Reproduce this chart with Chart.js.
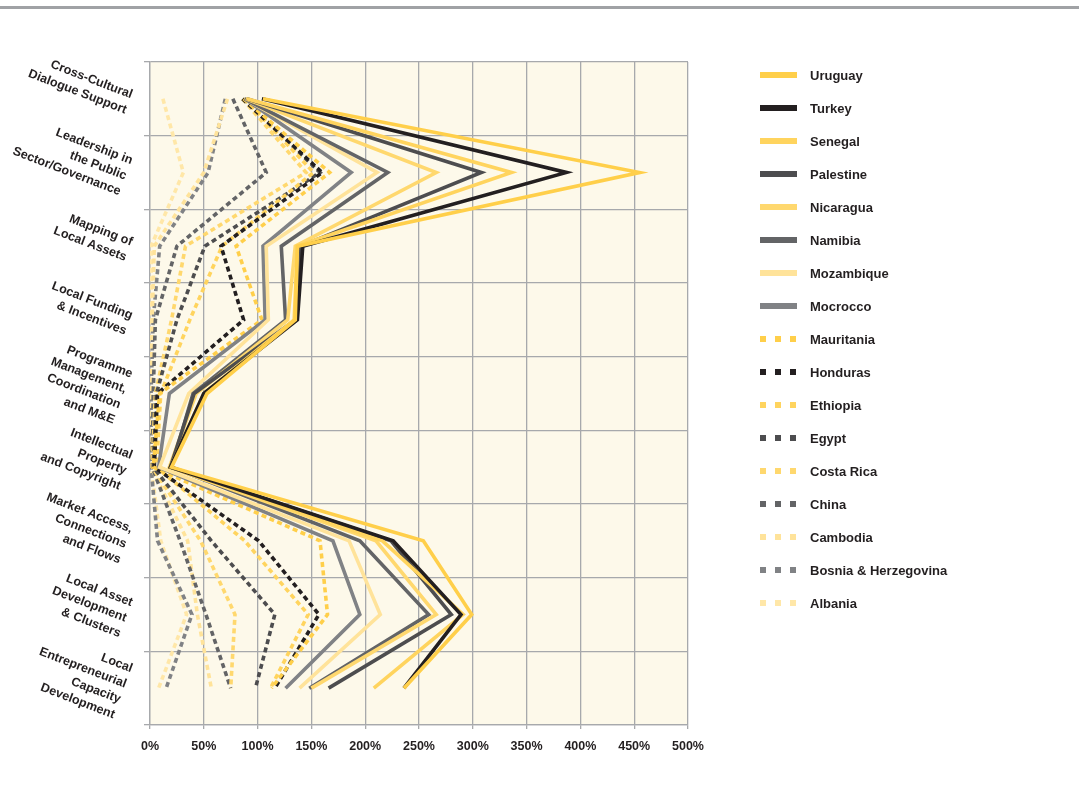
<!DOCTYPE html>
<html>
<head>
<meta charset="utf-8">
<script src="https://cdn.jsdelivr.net/npm/chart.js@4"></script>
<style>
  html, body { margin: 0; padding: 0; background: #ffffff; }
  #wrap { width: 1079px; height: 785px; position: relative; }
</style>
</head>
<body>
<div id="wrap"><canvas id="c" width="1079" height="785"></canvas></div>
<script>
// ---------- DATA ----------
const categories = [
  "Cross-Cultural Dialogue Support",
  "Leadership in the Public Sector/Governance",
  "Mapping of Local Assets",
  "Local Funding & Incentives",
  "Programme Management, Coordination and M&E",
  "Intellectual Property and Copyright",
  "Market Access, Connections and Flows",
  "Local Asset Development & Clusters",
  "Local Entrepreneurial Capacity Development"
];
const categoryLabelLines = [
  ["Cross-Cultural", "Dialogue Support"],
  ["Leadership in", "the Public", "Sector/Governance"],
  ["Mapping of", "Local Assets"],
  ["Local Funding", "& Incentives"],
  ["Programme", "Management,", "Coordination", "and M&E"],
  ["Intellectual", "Property", "and Copyright"],
  ["Market Access,", "Connections", "and Flows"],
  ["Local Asset", "Development", "& Clusters"],
  ["Local", "Entrepreneurial", "Capacity", "Development"]
];
const xTickValues = [0, 50, 100, 150, 200, 250, 300, 350, 400, 450, 500];

// solid series
const uruguay    = [105, 455, 137, 135, 53, 20, 254, 299, 236];
const turkey     = [104, 387, 142, 137, 50, 19, 226, 289, 236];
const senegal    = [ 90, 336, 137, 134, 50, 19, 216, 291, 208];
const palestine  = [ 90, 308, 140, 135, 41, 19, 224, 280, 166];
const nicaragua  = [ 89, 266, 135, 128, 43, 18, 210, 266, 150];
const namibia    = [ 88, 221, 122, 126, 40, 20, 195, 259, 148];
const mozambique = [ 88, 211, 108, 110, 36,  9, 185, 214, 139];
const morocco    = [ 88, 187, 105, 107, 18,  8, 170, 195, 126];
// dashed series
const mauritania = [ 87, 167,  80, 104,  9,  3, 158, 165, 113];
const honduras   = [ 86, 160,  66,  87,  7,  4, 101, 157, 116];
const ethiopia   = [ 88, 152,  67,  37, 10,  6,  88, 147, 112];
const egypt      = [ 87, 158,  51,  25,  6,  3,  57, 116,  98];
const costaRica  = [ 86, 145,  33,  20,  5,  2,  47,  79,  75];
const china      = [ 77, 108,  25,   5,  3,  2,  28,  52,  75];
const cambodia   = [ 72,  50,   4,   2,  1,  1,  35,  44,  57];
const bosnia     = [ 70,  54,   9,   3,  1,  1,   7,  39,  15];
const albania    = [ 12,  31,   1,   1,  1,  1,  10,  34,   8];

// ---------- STYLE ----------
const DASH = [5, 3.5];
function series(label, data, color, dashed) {
  return {
    label, data,
    borderColor: color,
    backgroundColor: color,
    borderWidth: 3.6,
    borderDash: dashed ? DASH : [],
    borderJoinStyle: 'miter',
    borderCapStyle: 'butt',
    pointRadius: 0,
    pointHoverRadius: 0,
    fill: false,
    tension: 0
  };
}
const datasets = [
  series('Uruguay', uruguay, '#FFCF4A', false),
  series('Turkey', turkey, '#231F20', false),
  series('Senegal', senegal, '#FFD45E', false),
  series('Palestine', palestine, '#4D4D4F', false),
  series('Nicaragua', nicaragua, '#FFD86E', false),
  series('Namibia', namibia, '#636466', false),
  series('Mozambique', mozambique, '#FFE39A', false),
  series('Mocrocco', morocco, '#808285', false),
  series('Mauritania', mauritania, '#FFCF4A', true),
  series('Honduras', honduras, '#231F20', true),
  series('Ethiopia', ethiopia, '#FFD45E', true),
  series('Egypt', egypt, '#4D4D4F', true),
  series('Costa Rica', costaRica, '#FFD86E', true),
  series('China', china, '#636466', true),
  series('Cambodia', cambodia, '#FFE39A', true),
  series('Bosnia & Herzegovina', bosnia, '#808285', true),
  series('Albania', albania, '#FFE7A8', true)
];

const FONT = '"Liberation Sans", Arial, sans-serif';
const TEXT = '#231F20';
const GRID = '#A7A9AC';

// ---------- PLUGINS ----------
const bgPlugin = {
  id: 'bg',
  beforeDraw(chart) {
    const { ctx, chartArea: a } = chart;
    ctx.save();
    ctx.fillStyle = '#ffffff';
    ctx.fillRect(0, 0, chart.width, chart.height);
    ctx.fillStyle = '#FDF9EA';
    ctx.fillRect(a.left, a.top, a.right - a.left, a.bottom - a.top);
    ctx.fillStyle = '#A0A2A5';
    ctx.fillRect(0, 6, chart.width, 3);
    ctx.restore();
  }
};

const yLabelPlugin = {
  id: 'ylabels',
  afterDraw(chart) {
    const ctx = chart.ctx, ys = chart.scales.y;
    const th = 21 * Math.PI / 180, lh = 16.5;
    ctx.save();
    ctx.font = 'bold 12.5px ' + FONT;
    ctx.fillStyle = TEXT;
    ctx.textAlign = 'right';
    ctx.textBaseline = 'middle';
    categoryLabelLines.forEach((lines, i) => {
      const cy = ys.getPixelForTick(i) + 4;
      const n = lines.length;
      const ax = 132 - ((n - 1) / 2) * lh * Math.sin(th);
      ctx.save();
      ctx.translate(ax, cy);
      ctx.rotate(th);
      lines.forEach((t, j) => ctx.fillText(t, 0, (j - (n - 1) / 2) * lh));
      ctx.restore();
    });
    ctx.restore();
  }
};

const legendPlugin = {
  id: 'sideLegend',
  afterDraw(chart) {
    const ctx = chart.ctx;
    ctx.save();
    ctx.font = 'bold 13px ' + FONT;
    ctx.textBaseline = 'middle';
    ctx.textAlign = 'left';
    chart.data.datasets.forEach((ds, i) => {
      const y = 75 + i * 33;
      ctx.fillStyle = ds.borderColor;
      if (ds.borderDash && ds.borderDash.length) {
        for (let k = 0; k < 3; k++) ctx.fillRect(760 + k * 15, y - 3, 6, 6);
      } else {
        ctx.fillRect(760, y - 3, 37, 6);
      }
      ctx.fillStyle = TEXT;
      ctx.fillText(ds.label, 810, y + 1);
    });
    ctx.restore();
  }
};

// ---------- CHART ----------
new Chart(document.getElementById('c'), {
  type: 'line',
  data: { labels: categories, datasets },
  plugins: [bgPlugin, yLabelPlugin, legendPlugin],
  options: {
    indexAxis: 'y',
    responsive: false,
    animation: false,
    devicePixelRatio: 1,
    layout: { padding: { left: 0, right: 391, top: 62, bottom: 0 } },
    plugins: { legend: { display: false }, tooltip: { enabled: false } },
    scales: {
      x: {
        type: 'linear',
        position: 'bottom',
        min: 0, max: 500,
        afterBuildTicks: s => { s.ticks = xTickValues.map(v => ({ value: v })); },
        afterFit: s => { s.height = 60; },
        ticks: {
          callback: v => v + '%',
          color: TEXT,
          font: { family: FONT, weight: 'bold', size: 12.5 },
          padding: 10,
          maxRotation: 0
        },
        grid: { color: GRID, lineWidth: 1.3, tickLength: 4 },
        border: { color: GRID, width: 1.3 }
      },
      y: {
        type: 'category',
        offset: true,
        afterFit: s => { s.width = 150; },
        ticks: { display: false },
        grid: { offset: true, color: GRID, lineWidth: 1.3, tickLength: 6 },
        border: { color: GRID, width: 1.3 }
      }
    }
  }
});
</script>
</body>
</html>
